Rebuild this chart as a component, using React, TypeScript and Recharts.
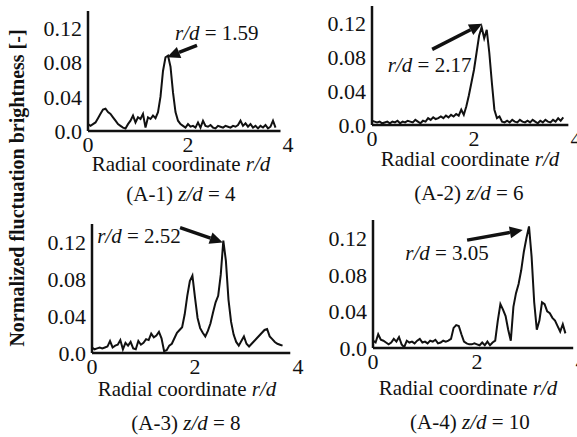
import { LineChart, Line, XAxis, YAxis, ReferenceLine, ReferenceDot } from 'recharts';

const FONT = "'Liberation Serif', 'Times New Roman', serif";

// radial coordinate r/d, shared by all four profiles
const R = [
  0, 0.05, 0.1, 0.15, 0.2, 0.25, 0.3, 0.35, 0.4, 0.45, 0.5, 0.55, 0.6, 0.65, 0.7, 0.75,
  0.8, 0.85, 0.9, 0.95, 1.0, 1.05, 1.1, 1.15, 1.2, 1.25, 1.3, 1.35, 1.4, 1.45, 1.5, 1.55,
  1.6, 1.65, 1.7, 1.75, 1.8, 1.85, 1.9, 1.95, 2.0, 2.05, 2.1, 2.15, 2.2, 2.25, 2.3, 2.35,
  2.4, 2.45, 2.5, 2.55, 2.6, 2.65, 2.7, 2.75, 2.8, 2.85, 2.9, 2.95, 3.0, 3.05, 3.1, 3.15,
  3.2, 3.25, 3.3, 3.35, 3.4, 3.45, 3.5, 3.55, 3.6, 3.65, 3.7, 3.75,
];

// (A-1) z/d = 4
const A1 = [
  0.008, 0.006, 0.008, 0.010, 0.015, 0.020, 0.025, 0.026, 0.022, 0.020, 0.016, 0.012, 0.008, 0.006, 0.004, 0.003,
  0.008, 0.012, 0.018, 0.010, 0.016, 0.014, 0.020, 0.004, 0.016, 0.014, 0.018, 0.015, 0.022, 0.040, 0.070, 0.086,
  0.088, 0.075, 0.045, 0.022, 0.012, 0.008, 0.006, 0.004, 0.008, 0.005, 0.006, 0.004, 0.010, 0.004, 0.012, 0.006,
  0.005, 0.007, 0.004, 0.003, 0.006, 0.005, 0.004, 0.006, 0.005, 0.004, 0.006, 0.005, 0.007, 0.012, 0.006, 0.009,
  0.005, 0.008, 0.004, 0.006, 0.003, 0.006, 0.004, 0.007, 0.003, 0.005, 0.012, 0.004,
];

// (A-2) z/d = 6
const A2 = [
  0.005, 0.004, 0.003, 0.004, 0.002, 0.003, 0.004, 0.002, 0.004, 0.003, 0.005, 0.002, 0.004, 0.003, 0.005, 0.004,
  0.003, 0.006, 0.004, 0.002, 0.005, 0.004, 0.008, 0.006, 0.009, 0.007, 0.008, 0.010, 0.008, 0.011, 0.009, 0.012,
  0.010, 0.013, 0.011, 0.018, 0.012, 0.022, 0.035, 0.050, 0.065, 0.085, 0.105, 0.115, 0.102, 0.112, 0.085, 0.050,
  0.018, 0.008, 0.010, 0.004, 0.003, 0.005, 0.003, 0.006, 0.004, 0.003, 0.006, 0.004, 0.003, 0.005, 0.003, 0.006,
  0.004, 0.002, 0.005, 0.003, 0.006, 0.004, 0.003, 0.006, 0.004, 0.008, 0.005, 0.009,
];

// (A-3) z/d = 8
const A3 = [
  0.006, 0.004, 0.005, 0.006, 0.005, 0.006, 0.007, 0.013, 0.006, 0.008, 0.009, 0.014, 0.004, 0.011, 0.008, 0.012,
  0.005, 0.004, 0.013, 0.009, 0.011, 0.015, 0.014, 0.021, 0.017, 0.019, 0.023, 0.016, 0.002, 0.003, 0.008, 0.010,
  0.016, 0.022, 0.025, 0.028, 0.042, 0.062, 0.078, 0.084, 0.060, 0.038, 0.027, 0.022, 0.018, 0.024, 0.032, 0.044,
  0.055, 0.062, 0.085, 0.122, 0.100, 0.058, 0.034, 0.020, 0.012, 0.008, 0.013, 0.018, 0.010, 0.007, 0.010, 0.013,
  0.016, 0.019, 0.022, 0.025, 0.026, 0.018, 0.015, 0.012, 0.010, 0.009, 0.008, null,
];

// (A-4) z/d = 10
const A4 = [
  0.008, 0.006, 0.015, 0.009, 0.008, 0.006, 0.004, 0.006, 0.010, 0.007, 0.012, 0.004, 0.001, 0.008, 0.006, 0.007,
  0.005, 0.008, 0.010, 0.006, 0.007, 0.005, 0.008, 0.007, 0.009, 0.005, 0.006, 0.008, 0.007, 0.008, 0.010, 0.022,
  0.025, 0.024, 0.015, 0.007, 0.005, 0.004, 0.004, 0.005, 0.004, 0.003, 0.006, 0.003, 0.007, 0.003, 0.006, 0.008,
  0.030, 0.048, 0.042, 0.035, 0.020, 0.008, 0.045, 0.060, 0.070, 0.085, 0.105, 0.120, 0.133, 0.100, 0.050, 0.020,
  0.030, 0.050, 0.048, 0.040, 0.038, 0.033, 0.030, 0.024, 0.018, 0.026, 0.016, null,
];

const Y_TICKS = [0, 0.04, 0.08, 0.12];
const X_TICKS = [0, 2, 4];

// arrow with a filled head, endpoints come from the chart scales
const arrowShape = (p: any) => {
  const { x1, y1, x2, y2 } = p;
  const dx = x2 - x1;
  const dy = y2 - y1;
  const len = Math.hypot(dx, dy) || 1;
  const ux = dx / len;
  const uy = dy / len;
  const hl = 13;
  const hw = 6;
  const bx = x2 - ux * hl;
  const by = y2 - uy * hl;
  return (
    <g>
      <line x1={x1} y1={y1} x2={bx} y2={by} stroke="#111" strokeWidth={3.5} />
      <polygon
        points={`${x2},${y2} ${bx - uy * hw},${by + ux * hw} ${bx + uy * hw},${by - ux * hw}`}
        fill="#111"
      />
    </g>
  );
};

const noteShape = (value: string) => (p: any) => (
  <text x={p.cx} y={p.cy} fontFamily={FONT} fontSize={21} fill="#111">
    <tspan fontStyle="italic">r/d</tspan> = {value}
  </text>
);

interface PanelProps {
  left: number;
  top: number;
  width: number;
  height: number;
  values: (number | null)[];
  note: string;
  notePos: [number, number];
  arrow: [number, number, number, number];
}

function Panel({ left, top, width, height, values, note, notePos, arrow }: PanelProps) {
  const data = R.map((r, i) => ({ r, v: values[i] }));
  return (
    <div style={{ position: 'absolute', left: left - 60, top: top - 10 }}>
      <LineChart
        width={width + 80}
        height={height + 40}
        data={data}
        margin={{ top: 10, right: 20, left: 10, bottom: 0 }}
        style={{ overflow: 'visible' }}
      >
        <XAxis
          dataKey="r"
          type="number"
          domain={[0, 4]}
          ticks={X_TICKS}
          axisLine={false}
          tickLine={false}
          tickSize={0}
          tickMargin={5}
          height={30}
          tick={{ fill: '#111', fontSize: 22, fontFamily: FONT }}
        />
        <YAxis
          type="number"
          domain={[0, 0.14]}
          ticks={Y_TICKS}
          width={50}
          tickLine={false}
          tickSize={0}
          tickMargin={6}
          axisLine={{ stroke: '#111', strokeWidth: 2.5 }}
          tickFormatter={(v: number) => (v === 0 ? '0.0' : v.toFixed(2))}
          tick={{ fill: '#111', fontSize: 22, fontFamily: FONT }}
        />
        <ReferenceLine
          segment={[{ x: 0, y: 0 }, { x: 3.85, y: 0 }]}
          stroke="#111"
          strokeWidth={2.5}
        />
        <Line
          dataKey="v"
          type="linear"
          stroke="#111"
          strokeWidth={2}
          dot={false}
          isAnimationActive={false}
        />
        <ReferenceLine
          segment={[{ x: arrow[0], y: arrow[1] }, { x: arrow[2], y: arrow[3] }]}
          shape={arrowShape}
        />
        <ReferenceDot x={notePos[0]} y={notePos[1]} r={0} shape={noteShape(note)} />
      </LineChart>
    </div>
  );
}

const labelStyle = { fontFamily: FONT, fontSize: 21, fill: '#111' };

export default function App() {
  return (
    <div
      style={{
        position: 'absolute',
        left: 0,
        top: 0,
        width: 577,
        height: 437,
        overflow: 'hidden',
        background: '#fff',
      }}
    >
      <Panel left={88} top={11} width={200} height={120} values={A1}
        note="1.59" notePos={[1.74, 0.106]} arrow={[2.18, 0.1, 1.58, 0.086]} />
      <Panel left={372} top={6} width={204} height={119} values={A2}
        note="2.17" notePos={[0.31, 0.062]} arrow={[1.18, 0.089, 2.16, 0.119]} />
      <Panel left={92} top={224} width={206} height={129} values={A3}
        note="2.52" notePos={[0.1, 0.119]} arrow={[1.71, 0.136, 2.54, 0.12]} />
      <Panel left={373} top={220} width={208} height={128} values={A4}
        note="3.05" notePos={[0.62, 0.096]} arrow={[1.81, 0.118, 2.88, 0.129]} />

      <svg width={577} height={437} style={{ position: 'absolute', left: 0, top: 0, pointerEvents: 'none' }}>
        <text x={17} y={188} transform="rotate(-90 17 188)" textAnchor="middle" dominantBaseline="central"
          fontFamily={FONT} fontSize={20} fontWeight="bold" fill="#111">
          Normalized fluctuation brightness [-]
        </text>

        <text x={181} y={171} textAnchor="middle" {...labelStyle}>
          Radial coordinate <tspan fontStyle="italic">r/d</tspan>
        </text>
        <text x={181} y={201} textAnchor="middle" {...labelStyle}>
          (A-1) <tspan fontStyle="italic">z/d</tspan> = 4
        </text>

        <text x={470} y={166} textAnchor="middle" {...labelStyle}>
          Radial coordinate <tspan fontStyle="italic">r/d</tspan>
        </text>
        <text x={469} y={200} textAnchor="middle" {...labelStyle}>
          (A-2) <tspan fontStyle="italic">z/d</tspan> = 6
        </text>

        <text x={187} y={396} textAnchor="middle" {...labelStyle}>
          Radial coordinate <tspan fontStyle="italic">r/d</tspan>
        </text>
        <text x={186} y={430} textAnchor="middle" {...labelStyle}>
          (A-3) <tspan fontStyle="italic">z/d</tspan> = 8
        </text>

        <text x={468} y={395} textAnchor="middle" {...labelStyle}>
          Radial coordinate <tspan fontStyle="italic">r/d</tspan>
        </text>
        <text x={470} y={429} textAnchor="middle" {...labelStyle}>
          (A-4) <tspan fontStyle="italic">z/d</tspan> = 10
        </text>
      </svg>
    </div>
  );
}
